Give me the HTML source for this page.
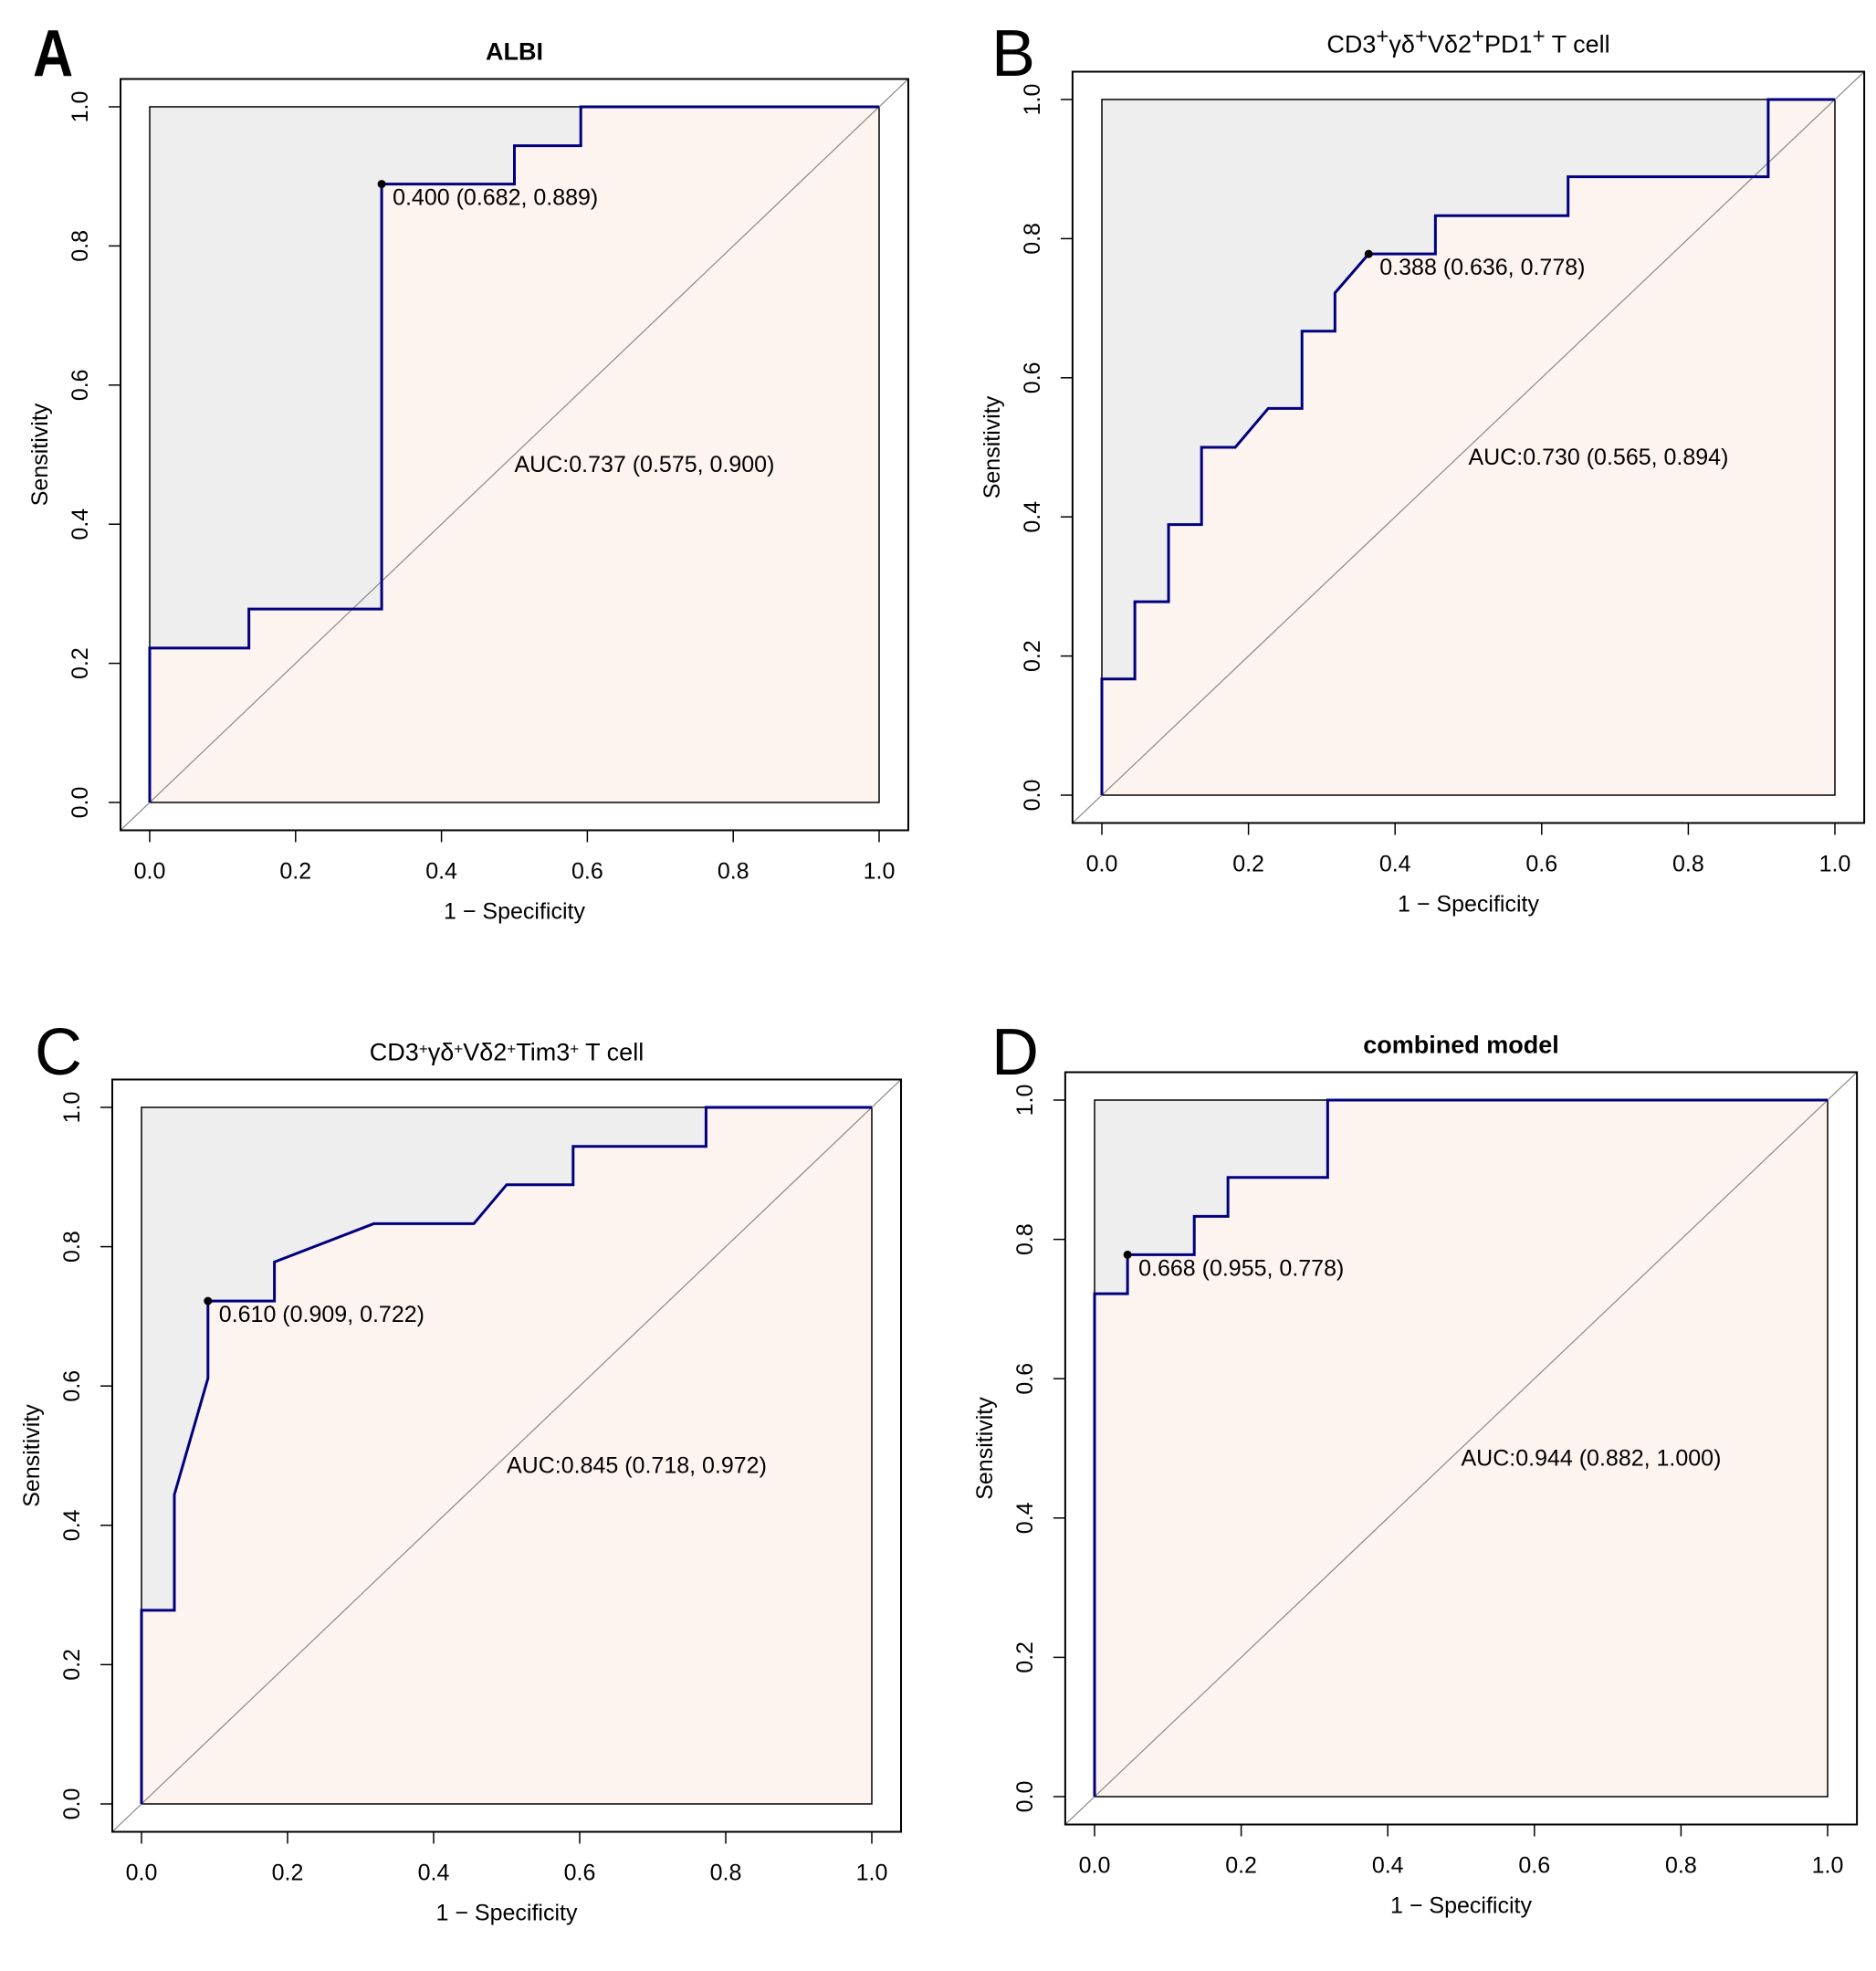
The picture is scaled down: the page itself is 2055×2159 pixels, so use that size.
<!DOCTYPE html>
<html><head><meta charset="utf-8"><style>
html,body{margin:0;padding:0;background:#fff;}
svg{display:block;font-family:"Liberation Sans",Arial,sans-serif;}
</style></head><body>
<svg id="fig" width="2055" height="2159" viewBox="0 0 2055 2159" xmlns="http://www.w3.org/2000/svg"></svg>
<script>
const ticks = [0, 0.2, 0.4, 0.6, 0.8, 1.0];
const tickLabels = ["0.0", "0.2", "0.4", "0.6", "0.8", "1.0"];
const fprA = [0, 0, 0.136, 0.136, 0.318, 0.318, 0.5, 0.5, 0.591, 0.591, 1];
const tprA = [0, 0.222, 0.222, 0.278, 0.278, 0.889, 0.889, 0.944, 0.944, 1, 1];
const fprB = [0, 0, 0.045, 0.045, 0.091, 0.091, 0.136, 0.136, 0.182, 0.227, 0.273, 0.273, 0.318, 0.318, 0.364, 0.455, 0.455, 0.636, 0.636, 0.909, 0.909, 1];
const tprB = [0, 0.167, 0.167, 0.278, 0.278, 0.389, 0.389, 0.5, 0.5, 0.556, 0.556, 0.667, 0.667, 0.722, 0.778, 0.778, 0.833, 0.833, 0.889, 0.889, 1, 1];
const fprC = [0, 0, 0.045, 0.045, 0.091, 0.091, 0.182, 0.182, 0.318, 0.455, 0.5, 0.591, 0.591, 0.773, 0.773, 1];
const tprC = [0, 0.278, 0.278, 0.444, 0.611, 0.722, 0.722, 0.778, 0.833, 0.833, 0.889, 0.889, 0.944, 0.944, 1, 1];
const fprD = [0, 0, 0.045, 0.045, 0.136, 0.136, 0.182, 0.182, 0.318, 0.318, 1];
const tprD = [0, 0.722, 0.722, 0.778, 0.778, 0.833, 0.833, 0.889, 0.889, 1, 1];
const bestA = [0.318, 0.889]; const bestB = [0.364, 0.778]; const bestC = [0.091, 0.722]; const bestD = [0.045, 0.778];
const bestLabels = ["0.400 (0.682, 0.889)", "0.388 (0.636, 0.778)", "0.610 (0.909, 0.722)", "0.668 (0.955, 0.778)"];
const aucLabels = ["AUC:0.737 (0.575, 0.900)", "AUC:0.730 (0.565, 0.894)", "AUC:0.845 (0.718, 0.972)", "AUC:0.944 (0.882, 1.000)"];

const NS = "http://www.w3.org/2000/svg";
const svg = document.getElementById("fig");
function mk(tag, attrs, parent, text) {
  const e = document.createElementNS(NS, tag);
  for (const k in attrs) e.setAttribute(k, attrs[k]);
  if (text !== undefined) e.textContent = text;
  (parent || svg).appendChild(e);
  return e;
}
const FS = 25;
const panels = [
  {id: "a", letter: "A", bold: true, lx: 36, ly: 83, x0: 164, x1: 963, y0: 879, y1: 117, fpr: fprA, tpr: tprA, best: bestA, bl: bestLabels[0], auc: aucLabels[0]},
  {id: "b", letter: "B", bold: false, lx: 1086, ly: 83, x0: 1207, x1: 2010, y0: 871, y1: 109, fpr: fprB, tpr: tprB, best: bestB, bl: bestLabels[1], auc: aucLabels[1]},
  {id: "c", letter: "C", bold: false, lx: 38, ly: 1177, x0: 155, x1: 955, y0: 1976, y1: 1213, fpr: fprC, tpr: tprC, best: bestC, bl: bestLabels[2], auc: aucLabels[2]},
  {id: "d", letter: "D", bold: false, lx: 1086, ly: 1177, x0: 1199, x1: 2002, y0: 1968, y1: 1205, fpr: fprD, tpr: tprD, best: bestD, bl: bestLabels[3], auc: aucLabels[3]}
];
panels.forEach((p, idx) => {
  const g = mk("g", {});
  
  
  const sx = v => p.x0 + v * (p.x1 - p.x0);
  const sy = v => p.y0 - v * (p.y0 - p.y1);
  const W = p.x1 - p.x0, H = p.y0 - p.y1;
  const ox0 = p.x0 - 0.04 * W, ox1 = p.x1 + 0.04 * W, oy0 = p.y0 + 0.04 * H, oy1 = p.y1 - 0.04 * H;
  const bg = mk("rect", {x: sx(0), y: sy(1), width: W, height: H, fill: "#eeeeee"}, g);
  
  
  let d = "M" + sx(0) + "," + sy(0);
  for (let i = 0; i < p.fpr.length; i++) d += " L" + sx(p.fpr[i]) + "," + sy(p.tpr[i]);
  d += " L" + sx(1) + "," + sy(0) + " Z";
  const under = mk("path", {d: d, fill: "#fdf4ef"}, g);
  
  
  const ib = mk("rect", {x: sx(0), y: sy(1), width: W, height: H, fill: "none", stroke: "#000", "stroke-width": 1.5}, g);
  
  
  const diag = mk("line", {x1: ox0, y1: oy0, x2: ox1, y2: oy1, stroke: "#888", "stroke-width": 1.2}, g);
  
  
  let ld = "";
  for (let i = 0; i < p.fpr.length; i++) ld += (i ? " L" : "M") + sx(p.fpr[i]) + "," + sy(p.tpr[i]);
  const curve = mk("path", {d: ld, fill: "none", stroke: "#00007f", "stroke-width": 3}, g);
  
  
  const ob = mk("rect", {x: ox0, y: oy1, width: ox1 - ox0, height: oy0 - oy1, fill: "none", stroke: "#000", "stroke-width": 2}, g);
  
  
  ticks.forEach((t, i) => {
    const xt = mk("line", {x1: sx(t), y1: oy0, x2: sx(t), y2: oy0 + 13, stroke: "#000", "stroke-width": 1.5}, g);
    
    
    const xl = mk("text", {x: sx(t), y: oy0 + 53, "font-size": FS, "text-anchor": "middle"}, g, tickLabels[i]);
    
    
    const yt = mk("line", {x1: ox0, y1: sy(t), x2: ox0 - 13, y2: sy(t), stroke: "#000", "stroke-width": 1.5}, g);
    
    
    const yx = ox0 - 36;
    const yl = mk("text", {x: yx, y: sy(t), "font-size": FS, "text-anchor": "middle", transform: "rotate(-90 " + yx + " " + sy(t) + ")"}, g, tickLabels[i]);
    
    
  });
  const xlab = mk("text", {x: (ox0 + ox1) / 2, y: oy0 + 97, "font-size": FS, "text-anchor": "middle"}, g, "1 \u2212 Specificity");
  
  
  const yxp = ox0 - 80, ymid = (oy0 + oy1) / 2;
  const ylab = mk("text", {x: yxp, y: ymid, "font-size": FS, "text-anchor": "middle", transform: "rotate(-90 " + yxp + " " + ymid + ")"}, g, "Sensitivity");
  
  
  const dot = mk("circle", {cx: sx(p.best[0]), cy: sy(p.best[1]), r: 4.5, fill: "#000"}, g);
  
  
  const bt = mk("text", {x: sx(p.best[0]) + 12, y: sy(p.best[1]) + 23, "font-size": FS}, g, p.bl);
  
  
  const at = mk("text", {x: sx(0.5), y: sy(0.5) + 19, "font-size": FS}, g, p.auc);
  
  
  const tt = mk("text", {x: (ox0 + ox1) / 2, y: oy1 - 21, "font-size": 27, "text-anchor": "middle", "font-weight": idx === 0 || idx === 3 ? "bold" : "normal"}, g);
  
  
  if (idx === 0) tt.textContent = "ALBI";
  else if (idx === 3) tt.textContent = "combined model";
  else {
    const parts = idx === 1 ? ["CD3", "\u03b3\u03b4", "V\u03b42", "PD1", " T cell"] : ["CD3", "\u03b3\u03b4", "V\u03b42", "Tim3", " T cell"];
    const ps = idx === 1 ? 24 : 17;
    parts.forEach((s, i) => {
      mk("tspan", {}, tt, s);
      if (i < parts.length - 1) mk("tspan", {"baseline-shift": "40%", "font-size": ps}, tt, "+");
    });
  }
  const L = mk("text", {x: p.lx, y: p.ly, "font-size": 72, "font-weight": p.bold ? "bold" : "normal", transform: p.bold ? "translate(" + p.lx + ",0) scale(0.85,1) translate(" + (-p.lx) + ",0)" : ""}, g, p.letter);
  
  
});
</script>
</body></html>
